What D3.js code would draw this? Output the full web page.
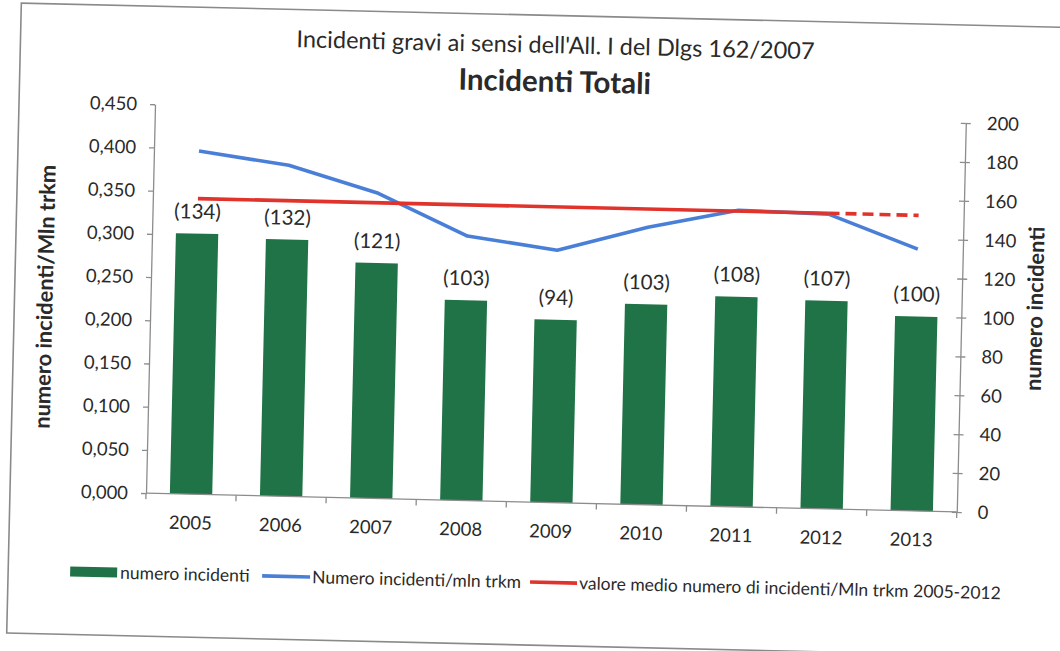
<!DOCTYPE html>
<html>
<head>
<meta charset="utf-8">
<script src="https://cdn.jsdelivr.net/npm/d3@7"></script>
<style>
  html, body { margin: 0; padding: 0; background: #fff; }
  svg { display: block; }
  text { font-family: Lato, "Open Sans", "Liberation Sans", sans-serif; fill: #2a2a2a; }
</style>
</head>
<body>
<svg id="chart" width="1060" height="651"></svg>
<script>
// ---- data ----
const years = ["2005", "2006", "2007", "2008", "2009", "2010", "2011", "2012", "2013"];
const incidents = [134, 132, 121, 103, 94, 103, 108, 107, 100];            // numero incidenti (right axis)
const ratePerMlnTrkm = [0.397, 0.383, 0.353, 0.306, 0.292, 0.321, 0.343, 0.341, 0.303]; // left axis
const meanRate = 0.342;                                                     // media 2005-2012
const meanSolidYears = ["2005", "2012"];
const meanDashedYears = ["2012", "2013"];
const leftTicks = [0, 0.05, 0.1, 0.15, 0.2, 0.25, 0.3, 0.35, 0.4, 0.45];
const rightTicks = [0, 20, 40, 60, 80, 100, 120, 140, 160, 180, 200];

const titleLine1 = "Incidenti gravi ai sensi dell'All. I del Dlgs 162/2007";
const titleLine2 = "Incidenti Totali";
const leftAxisTitle = "numero incidenti/Mln trkm";
const rightAxisTitle = "numero incidenti";
const legendLabels = ["numero incidenti", "Numero incidenti/mln trkm", "valore medio numero di incidenti/Mln trkm 2005-2012"];

// ---- colours ----
const barColor = "#1f7346";
const rateColor = "#4a7fd8";
const meanColor = "#e0332b";
const axisColor = "#8c8c8c";

// ---- layout ----
const plot = { left: 150, right: 961, top: 113, bottom: 502 };

const svg = d3.select("#chart");
// the sheet sits slightly askew on the page
const root = svg.append("g").attr("transform", "rotate(1.33 530 325)");

root.append("rect")
  .attr("x", 14).attr("y", 15).attr("width", 1090).attr("height", 630)
  .attr("fill", "#fff").attr("stroke", "#8a8a8a").attr("stroke-width", 1.6);

const x = d3.scaleBand().domain(years).range([plot.left, plot.right])
  .paddingInner(0.53).paddingOuter(0.265);
const yL = d3.scaleLinear().domain([0, 0.45]).range([plot.bottom, plot.top]);
const yR = d3.scaleLinear().domain([0, 200]).range([plot.bottom, plot.top]);
const cx = d => x(d) + x.bandwidth() / 2;

const itFormat = d3.formatLocale({ decimal: ",", thousands: ".", grouping: [3], currency: ["€", ""] }).format(".3f");

// ---- bars ----
const barData = years.map((y, i) => ({ year: y, value: incidents[i] }));
root.append("g").selectAll("rect").data(barData).join("rect")
  .attr("x", d => x(d.year))
  .attr("width", x.bandwidth())
  .attr("y", d => yR(d.value))
  .attr("height", d => yR(0) - yR(d.value))
  .attr("fill", barColor);

// ---- bar value labels ----
root.append("g").selectAll("text").data(barData).join("text")
  .attr("x", d => cx(d.year))
  .attr("y", d => yR(d.value) - 15)
  .attr("text-anchor", "middle")
  .style("font-size", "20.5px")
  .text(d => `(${d.value})`);

// ---- rate line ----
const rateData = years.map((y, i) => ({ year: y, value: ratePerMlnTrkm[i] }));
const line = d3.line().x(d => cx(d.year)).y(d => yL(d.value));
root.append("path").datum(rateData)
  .attr("d", line)
  .attr("fill", "none").attr("stroke", rateColor)
  .attr("stroke-width", 3.6).attr("stroke-linejoin", "round");

// ---- mean line ----
root.append("path").datum(meanSolidYears.map(y => ({ year: y, value: meanRate })))
  .attr("d", line)
  .attr("fill", "none").attr("stroke", meanColor).attr("stroke-width", 3.6);
root.append("path").datum(meanDashedYears.map(y => ({ year: y, value: meanRate })))
  .attr("d", line)
  .attr("fill", "none").attr("stroke", meanColor).attr("stroke-width", 3.6)
  .attr("stroke-dasharray", "11,6");

// ---- axes ----
function styleAxis(g, size) {
  g.selectAll(".domain").attr("stroke", axisColor).attr("stroke-width", 1.3);
  g.selectAll(".tick line").attr("stroke", axisColor).attr("stroke-width", 1.3);
  g.selectAll(".tick text").style("font-size", size).style("font-family", null).attr("fill", "#333");
}

root.append("g")
  .attr("transform", `translate(${plot.left},0)`)
  .call(d3.axisLeft(yL).tickValues(leftTicks).tickSize(5).tickSizeOuter(0).tickPadding(13).tickFormat(itFormat))
  .call(g => styleAxis(g, "18.5px"));

root.append("g")
  .attr("transform", `translate(${plot.right},0)`)
  .call(d3.axisRight(yR).tickValues(rightTicks).tickSize(5).tickSizeOuter(0).tickPadding(16))
  .call(g => styleAxis(g, "18.5px"))
  .call(g => g.selectAll(".tick line").attr("x1", -5));

// category axis: baseline, boundary ticks, year labels
const xAxis = root.append("g").attr("transform", `translate(0,${plot.bottom})`);
xAxis.append("line")
  .attr("x1", plot.left).attr("x2", plot.right)
  .attr("stroke", axisColor).attr("stroke-width", 1.3);
const gap = (x.step() - x.bandwidth()) / 2;
const boundaries = years.map(y => x(y) - gap).concat([plot.right]);
xAxis.selectAll("line.b").data(boundaries).join("line")
  .attr("class", "b")
  .attr("x1", d => d).attr("x2", d => d).attr("y1", 0).attr("y2", 6)
  .attr("stroke", axisColor).attr("stroke-width", 1.3);
xAxis.append("g")
  .call(d3.axisBottom(x).tickSize(0).tickPadding(22))
  .call(g => g.select(".domain").remove())
  .call(g => styleAxis(g, "18.5px"));

// ---- titles ----
root.append("text").attr("x", 549).attr("y", 44.5).attr("dy", "0.35em")
  .attr("text-anchor", "middle").style("font-size", "23.5px").text(titleLine1);
root.append("text").attr("x", 549).attr("y", 81).attr("dy", "0.35em")
  .attr("text-anchor", "middle").style("font-size", "29.5px").style("font-weight", "bold").text(titleLine2);

root.append("text").attr("transform", "translate(44.5,308) rotate(-90)").attr("dy", "0.35em")
  .attr("text-anchor", "middle").style("font-size", "21.8px").style("font-weight", "bold").text(leftAxisTitle);
root.append("text").attr("transform", "translate(1034.5,297) rotate(-90)").attr("dy", "0.35em")
  .attr("text-anchor", "middle").style("font-size", "21.8px").style("font-weight", "bold").text(rightAxisTitle);

// ---- legend ----
const legY = 582;
const legend = root.append("g").style("font-size", "17.5px");
legend.append("rect").attr("x", 76).attr("y", legY - 5).attr("width", 47).attr("height", 10).attr("fill", barColor);
legend.append("text").attr("x", 126).attr("y", legY).attr("dy", "0.35em").text(legendLabels[0]);
legend.append("line").attr("x1", 268).attr("x2", 316).attr("y1", legY).attr("y2", legY)
  .attr("stroke", rateColor).attr("stroke-width", 3.6);
legend.append("text").attr("x", 318).attr("y", legY).attr("dy", "0.35em").text(legendLabels[1]);
legend.append("line").attr("x1", 536).attr("x2", 583).attr("y1", legY).attr("y2", legY)
  .attr("stroke", meanColor).attr("stroke-width", 3.6);
legend.append("text").attr("x", 585).attr("y", legY).attr("dy", "0.35em").text(legendLabels[2]);
</script>
</body>
</html>
